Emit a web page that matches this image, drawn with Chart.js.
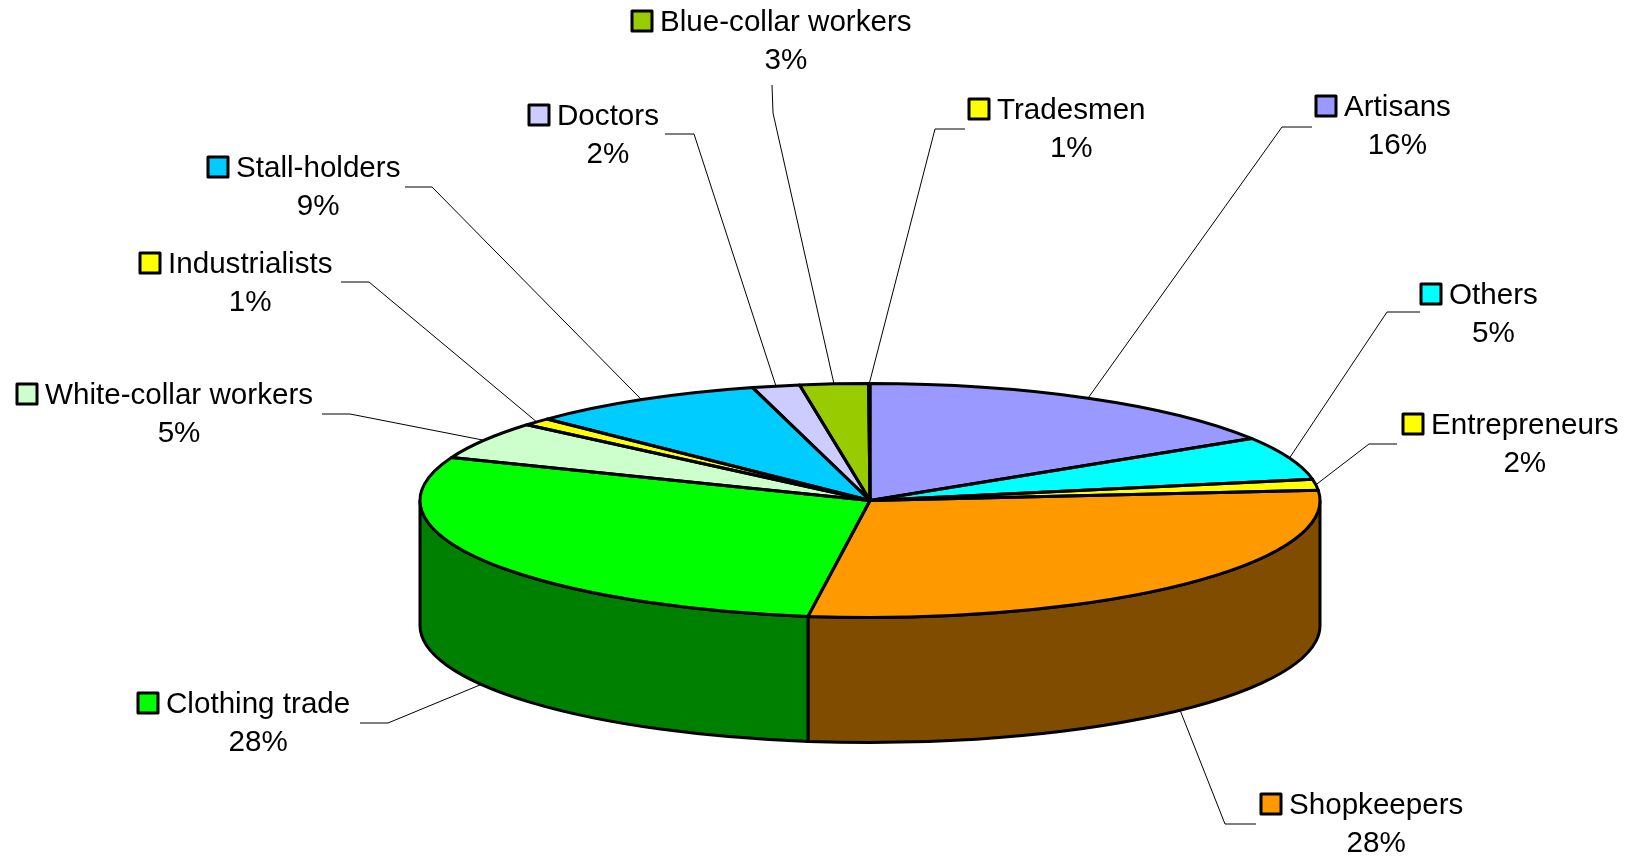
<!DOCTYPE html>
<html>
<head>
<meta charset="utf-8">
<title>Pie</title>
<script src="https://cdn.jsdelivr.net/npm/chart.js@4"></script>
<style>
    html, body { margin: 0; padding: 0; background: #fff; overflow: hidden; }
    canvas { display: block; }
</style>
</head>
<body>
<canvas id="pie" width="1630" height="859"></canvas>
<script>
const categories = ["Artisans", "Others", "Entrepreneurs", "Shopkeepers", "Clothing trade",
    "White-collar workers", "Industrialists", "Stall-holders", "Doctors", "Blue-collar workers", "Tradesmen"];
// slice sizes
const shares = [16.1, 6.0, 1.5, 28.6, 28.8, 5.2, 1.05, 8.55, 1.7, 2.45, 0.05];
// printed percentages
const percentLabels = ["16%", "5%", "2%", "28%", "28%", "5%", "1%", "9%", "2%", "3%", "1%"];
const colors = ["#9999FF", "#00FFFF", "#FFFF00", "#FF9900", "#00FF00",
    "#CCFFCC", "#FFFF00", "#00CCFF", "#CCCCFF", "#99CC00", "#FFFF00"];
const wallColors = ["#4D4D80", "#008080", "#808000", "#804D00", "#008000",
    "#668066", "#808000", "#006680", "#666680", "#4D6600", "#808000"];

// label layout: left edge of the key, middle of the first text line
const labelX = [1316, 1421, 1403, 1261, 138, 17, 140, 208, 529, 632, 969];
const labelY = [106, 294, 424, 804, 703, 394, 263, 167, 115, 21, 109];
// leader line: where it leaves the label, then its elbow
const leaderStart = [[1312, 127], [1420, 312], [1397, 444], [1256, 824], [360, 723],
    [322, 414], [341, 282], [405, 187], [665, 134], [772, 85], [965, 129]];
const leaderElbow = [[1282, 127], [1387, 312], [1369, 444], [1225, 824], [388, 723],
    [350, 414], [369, 282], [432, 187], [694, 134], [773, 113], [935, 129]];

const RADIUS = 450;
const TILT = 117 / 450;
const DEPTH = 125;
const FONT = '29.6px "Liberation Sans", Arial, sans-serif';
const KEY_SIZE = 20;
const KEY_GAP = 8;
const EDGE_WIDTH = 3;

function arcProps(chart) {
    return chart.getDatasetMeta(0).data.map(arc =>
        arc.getProps(["x", "y", "startAngle", "endAngle", "outerRadius"], true));
}

function drawWalls(chart) {
    const ctx = chart.ctx;
    arcProps(chart).forEach((a, i) => {
        const from = Math.max(a.startAngle, 0);
        const to = Math.min(a.endAngle, Math.PI);
        if (from >= to) return;
        const ry = a.outerRadius * TILT;
        ctx.beginPath();
        ctx.ellipse(a.x, a.y, a.outerRadius, ry, 0, from, to);
        ctx.ellipse(a.x, a.y + DEPTH, a.outerRadius, ry, 0, to, from, true);
        ctx.closePath();
        ctx.fillStyle = wallColors[i];
        ctx.fill();
        ctx.strokeStyle = "#000";
        ctx.lineWidth = EDGE_WIDTH;
        ctx.stroke();
    });
}

function drawOutlines(chart) {
    const ctx = chart.ctx;
    ctx.strokeStyle = "#000";
    ctx.lineWidth = EDGE_WIDTH;
    ctx.lineJoin = "round";
    arcProps(chart).forEach(a => {
        ctx.beginPath();
        ctx.moveTo(a.x, a.y);
        ctx.ellipse(a.x, a.y, a.outerRadius, a.outerRadius * TILT, 0, a.startAngle, a.endAngle);
        ctx.closePath();
        ctx.stroke();
    });
}

function drawLabels(chart) {
    const ctx = chart.ctx;
    const arcs = arcProps(chart);
    ctx.font = FONT;
    ctx.textBaseline = "middle";
    categories.forEach((name, i) => {
        // leader runs to the middle of the slice, on the wall for the front ones
        const a = arcs[i];
        const mid = (a.startAngle + a.endAngle) / 2;
        const endX = a.x + a.outerRadius * Math.cos(mid);
        let endY = a.y + a.outerRadius * TILT * Math.sin(mid);
        if (Math.sin(mid) > 0) endY += DEPTH;
        ctx.beginPath();
        ctx.moveTo(leaderStart[i][0], leaderStart[i][1]);
        ctx.lineTo(leaderElbow[i][0], leaderElbow[i][1]);
        ctx.lineTo(endX, endY);
        ctx.strokeStyle = "#000";
        ctx.lineWidth = 1;
        ctx.stroke();

        const x = labelX[i];
        const y = labelY[i];
        ctx.fillStyle = colors[i];
        ctx.fillRect(x, y - KEY_SIZE / 2, KEY_SIZE, KEY_SIZE);
        ctx.strokeStyle = "#000";
        ctx.lineWidth = EDGE_WIDTH;
        ctx.strokeRect(x, y - KEY_SIZE / 2, KEY_SIZE, KEY_SIZE);

        const textX = x + KEY_SIZE + KEY_GAP;
        ctx.fillStyle = "#000";
        ctx.textAlign = "left";
        ctx.fillText(name, textX, y + 2);
        // the percentage sits under the name, not under the key
        ctx.textAlign = "center";
        ctx.fillText(percentLabels[i], textX + ctx.measureText(name).width / 2, y + 40);
    });
}

const tiltedPie = {
    id: "tiltedPie",
    beforeDatasetsDraw(chart) {
        drawWalls(chart);
        const a = chart.getDatasetMeta(0).data[0];
        const ctx = chart.ctx;
        ctx.save();
        ctx.translate(a.x, a.y);
        ctx.scale(1, TILT);
        ctx.translate(-a.x, -a.y);
    },
    afterDatasetsDraw(chart) {
        chart.ctx.restore();
        drawOutlines(chart);
        drawLabels(chart);
    }
};

new Chart(document.getElementById("pie").getContext("2d"), {
    type: "pie",
    data: {
        labels: categories,
        datasets: [{
            data: shares,
            backgroundColor: colors,
            borderWidth: 0,
            clip: false
        }]
    },
    options: {
        responsive: false,
        animation: false,
        events: [],
        radius: RADIUS,
        layout: { padding: { left: 110, top: 142 } },
        plugins: {
            legend: { display: false },
            tooltip: { enabled: false }
        }
    },
    plugins: [tiltedPie]
});
</script>
</body>
</html>
